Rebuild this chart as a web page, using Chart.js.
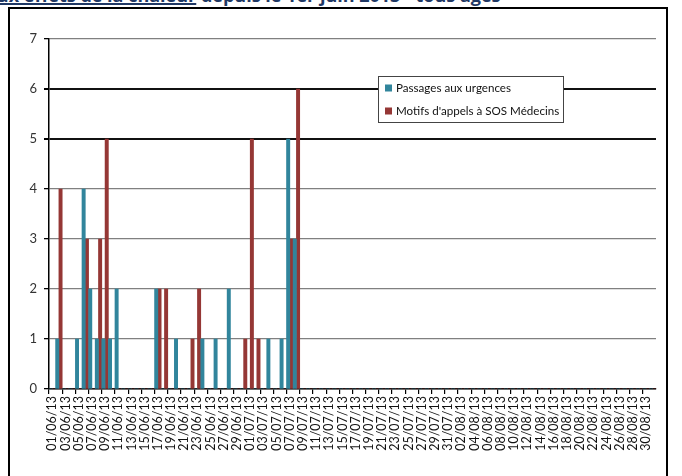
<!DOCTYPE html>
<html>
<head>
<meta charset="utf-8">
<script src="https://cdn.jsdelivr.net/npm/chart.js@4.4.1/dist/chart.umd.min.js"></script>
<style>
    html, body { margin: 0; padding: 0; background: #fff; overflow: hidden; }
    body { width: 682px; height: 476px; position: relative; }
    .title {
        position: absolute; left: -14px; top: -14px; white-space: nowrap;
        font: bold 18px "Open Sans", sans-serif; color: #1f3864; line-height: 18px;
    }
    .title u { text-decoration-thickness: 2px; }
    .frame {
        position: absolute; left: 8px; top: 7px; width: 656px; height: 520px;
        border: 2.5px solid #000;
    }
    #chart { position: absolute; left: 0; top: 0; }
</style>
</head>
<body>
<div class="title"><u>aux effets de la chaleur</u> depuis le 1er juin 2013 - tous âges</div>
<div class="frame"></div>
<canvas id="chart" width="682" height="476"></canvas>
<script>
    // jours du 01/06/13 au 31/08/13
    const monthDays = [['06', 30], ['07', 31], ['08', 31]];
    const dayLabels = [];
    monthDays.forEach(([m, n]) => {
        for (let d = 1; d <= n; d++) {
            dayLabels.push(String(d).padStart(2, '0') + '/' + m + '/13');
        }
    });

    const yTicks = [0, 1, 2, 3, 4, 5, 6, 7];

    const passagesUrgences = [
        0, 1, 0, 0, 1, 4, 2, 1, 1, 1,
        2, 0, 0, 0, 0, 0, 2, 0, 0, 1,
        0, 0, 0, 1, 0, 1, 0, 2, 0, 0,
        0, 0, 0, 1, 0, 1, 5, 3, 0, 0,
        0, 0, 0, 0, 0, 0, 0, 0, 0, 0,
        0, 0, 0, 0, 0, 0, 0, 0, 0, 0,
        0, 0, 0, 0, 0, 0, 0, 0, 0, 0,
        0, 0, 0, 0, 0, 0, 0, 0, 0, 0,
        0, 0, 0, 0, 0, 0, 0, 0, 0, 0,
        0, 0
    ];

    const appelsSosMedecins = [
        0, 4, 0, 0, 0, 3, 0, 3, 5, 0,
        0, 0, 0, 0, 0, 0, 2, 2, 0, 0,
        0, 1, 2, 0, 0, 0, 0, 0, 0, 1,
        5, 1, 0, 0, 0, 0, 3, 6, 0, 0,
        0, 0, 0, 0, 0, 0, 0, 0, 0, 0,
        0, 0, 0, 0, 0, 0, 0, 0, 0, 0,
        0, 0, 0, 0, 0, 0, 0, 0, 0, 0,
        0, 0, 0, 0, 0, 0, 0, 0, 0, 0,
        0, 0, 0, 0, 0, 0, 0, 0, 0, 0,
        0, 0
    ];

    const seriesNames = ['Passages aux urgences', "Motifs d'appels à SOS Médecins"];
    const seriesColors = ['#31859c', '#953735'];

    const FONT = 'Lato, "Open Sans", sans-serif';

    // legende encadree dans la zone du graphique
    const boxLegend = {
        id: 'boxLegend',
        afterDatasetsDraw(chart) {
            const ctx = chart.ctx;
            const x = 378, y = 76, w = 185, h = 46;
            ctx.save();
            ctx.fillStyle = '#fff';
            ctx.fillRect(x, y, w, h);
            ctx.strokeStyle = '#444';
            ctx.lineWidth = 1;
            ctx.strokeRect(x + 0.5, y + 0.5, w, h);
            ctx.font = '11.6px ' + FONT;
            ctx.textBaseline = 'middle';
            chart.data.datasets.forEach((ds, i) => {
                const cy = y + 12 + i * 23;
                ctx.fillStyle = ds.backgroundColor;
                ctx.fillRect(x + 7, cy - 3.5, 7, 7);
                ctx.fillStyle = '#111';
                ctx.fillText(ds.label, x + 18, cy + 0.5);
            });
            ctx.restore();
        }
    };

    new Chart(document.getElementById('chart'), {
        type: 'bar',
        data: {
            labels: dayLabels,
            datasets: seriesNames.map((name, i) => ({
                label: name,
                data: i === 0 ? passagesUrgences : appelsSosMedecins,
                backgroundColor: seriesColors[i],
                borderWidth: 0,
                categoryPercentage: 1.0,
                barPercentage: 1.0
            }))
        },
        options: {
            responsive: false,
            animation: false,
            layout: { padding: { top: 39, right: 26, left: 0, bottom: 0 } },
            plugins: {
                legend: { display: false },
                tooltip: { enabled: false }
            },
            scales: {
                x: {
                    afterFit: scale => { scale.height = 87; },
                    grid: {
                        offset: true,
                        drawOnChartArea: false,
                        drawTicks: true,
                        tickLength: 5,
                        tickColor: ctx => (ctx.index % 2 === 0 ? '#000' : 'rgba(0,0,0,0)'),
                        lineWidth: 1.2
                    },
                    border: { color: '#000', width: 1.5 },
                    ticks: {
                        autoSkip: false,
                        maxRotation: 90,
                        minRotation: 90,
                        padding: 2,
                        color: '#111',
                        font: { family: FONT, size: 12.5 },
                        callback: function (value, index) {
                            return index % 2 === 0 ? this.getLabelForValue(value) : '';
                        }
                    }
                },
                y: {
                    min: yTicks[0],
                    max: yTicks[yTicks.length - 1],
                    afterFit: scale => { scale.width = 49; },
                    afterBuildTicks: scale => {
                        scale.ticks = yTicks.map(v => ({ value: v }));
                    },
                    grid: {
                        color: ctx => (ctx.tick && (ctx.tick.value === 5 || ctx.tick.value === 6) ? '#111' : '#808080'),
                        lineWidth: ctx => (ctx.tick && (ctx.tick.value === 5 || ctx.tick.value === 6) ? 2 : 1.3),
                        tickColor: '#000',
                        tickLength: 5
                    },
                    border: { color: '#000', width: 1.5 },
                    ticks: {
                        padding: 7,
                        color: '#333',
                        font: { family: FONT, size: 13 }
                    }
                }
            }
        },
        plugins: [boxLegend]
    });
</script>
</body>
</html>
